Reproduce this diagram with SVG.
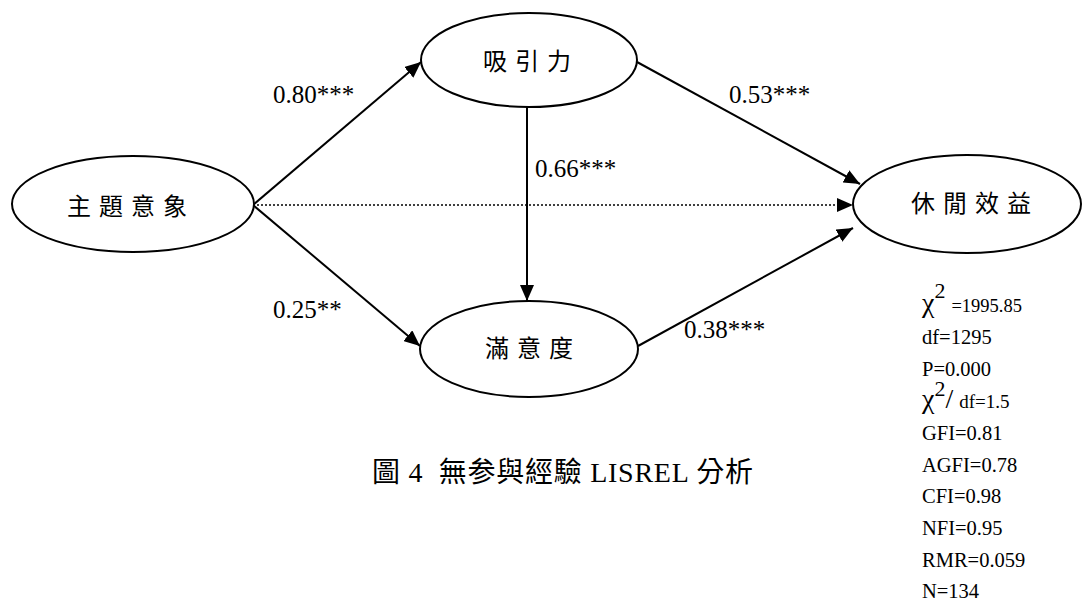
<svg xmlns="http://www.w3.org/2000/svg" width="1083" height="600" viewBox="0 0 1083 600">
<style>
.node{fill:#fff;stroke:#000;stroke-width:2}
.nt{font-family:"Noto Sans CJK TC","Noto Sans CJK SC",sans-serif;font-size:24px;letter-spacing:8px;fill:#000;text-anchor:middle}
.edge{stroke:#000;stroke-width:2;fill:none}
.dot{stroke:#000;stroke-width:1.5;stroke-dasharray:2 2;fill:none}
.lab{font-family:"Liberation Serif","Times New Roman",serif;font-size:25px;fill:#000}
.st{font-family:"Liberation Serif","Times New Roman",serif;font-size:20.5px;fill:#000}
.cap{font-family:"Liberation Serif","Noto Sans CJK TC",sans-serif;font-size:28px;fill:#000}
</style>
<defs>
<marker id="ah" viewBox="0 0 16 14" refX="16" refY="7" markerWidth="16" markerHeight="14" markerUnits="userSpaceOnUse" orient="auto">
<path d="M0,0 L16,7 L0,14 Z" fill="#000"/>
</marker>
</defs>
<rect width="1083" height="600" fill="#fff"/>
<g id="connectors">
<line class="edge" x1="253" y1="205" x2="421" y2="62" marker-end="url(#ah)"/>
<line class="edge" x1="253" y1="205" x2="420" y2="346" marker-end="url(#ah)"/>
<line class="dot" x1="253" y1="205" x2="853" y2="205" marker-end="url(#ah)"/>
<line class="edge" x1="527" y1="107" x2="527" y2="301" marker-end="url(#ah)"/>
<line class="edge" x1="637" y1="62" x2="860" y2="184" marker-end="url(#ah)"/>
<line class="edge" x1="638" y1="346" x2="853" y2="228" marker-end="url(#ah)"/>
</g>
<g id="node-theme">
<ellipse class="node" cx="133" cy="204" rx="121" ry="48"/>
<text class="nt" x="131" y="215">主題意象</text>
</g>
<g id="node-attraction">
<ellipse class="node" cx="529" cy="60" rx="108" ry="47"/>
<text class="nt" x="531" y="70">吸引力</text>
</g>
<g id="node-satisfaction">
<ellipse class="node" cx="529" cy="349" rx="109" ry="48"/>
<text class="nt" x="533" y="357">滿意度</text>
</g>
<g id="node-benefit">
<ellipse class="node" cx="967" cy="204" rx="114" ry="49"/>
<text class="nt" x="975" y="212">休閒效益</text>
</g>
<g id="labels">
<text class="lab" x="273" y="103">0.80***</text>
<text class="lab" x="729" y="103">0.53***</text>
<text class="lab" x="535" y="177">0.66***</text>
<text class="lab" x="273" y="318">0.25**</text>
<text class="lab" x="684" y="338">0.38***</text>
</g>
<g id="stats">
<text class="st" x="922" y="312"><tspan font-size="28">χ</tspan><tspan font-size="22" dy="-14">2</tspan><tspan font-size="18.5" dy="14" dx="6">=1995.85</tspan></text>
<text class="st" x="922" y="344">df=1295</text>
<text class="st" x="922" y="376">P=0.000</text>
<text class="st" x="922" y="408"><tspan font-size="28">χ</tspan><tspan font-size="22" dy="-12">2</tspan><tspan font-size="28" dy="12">/</tspan><tspan font-size="19" dx="6">df=1.5</tspan></text>
<text class="st" x="922" y="440">GFI=0.81</text>
<text class="st" x="922" y="472">AGFI=0.78</text>
<text class="st" x="922" y="503">CFI=0.98</text>
<text class="st" x="922" y="535">NFI=0.95</text>
<text class="st" x="922" y="567">RMR=0.059</text>
<text class="st" x="922" y="598">N=134</text>
</g>
<text class="cap" x="372" y="482" xml:space="preserve" textLength="381" lengthAdjust="spacing">圖 4  無参與經驗 LISREL 分析</text>
</svg>
